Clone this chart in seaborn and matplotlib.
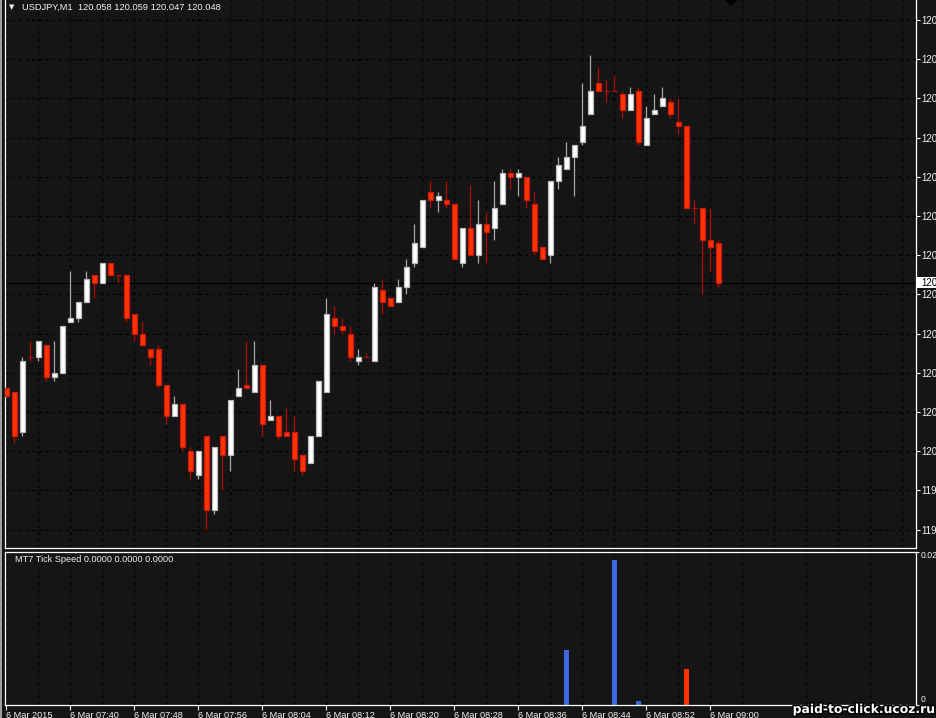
import numpy as np
import pandas as pd
import matplotlib
matplotlib.use("Agg")
import matplotlib.pyplot as plt
import seaborn as sns
from matplotlib import patheffects as pe
from matplotlib.patches import Polygon, Rectangle

# ---------------- data ----------------
symbol = "USDJPY,M1"
header_ohlc = ["120.058", "120.059", "120.047", "120.048"]

opens = [120.021, 120.020, 120.010, 120.029, 120.029, 120.032, 120.024, 120.025, 120.038, 120.039,
         120.043, 120.050, 120.048, 120.053, 120.050, 120.050, 120.040, 120.035, 120.031, 120.031,
         120.022, 120.014, 120.017, 120.005, 119.999, 120.009, 119.990, 120.009, 120.004, 120.019,
         120.022, 120.020, 120.027, 120.013, 120.014, 120.010, 120.010, 120.004, 120.002, 120.009,
         120.020, 120.039, 120.037, 120.035, 120.028, 120.029, 120.028, 120.046, 120.044, 120.043,
         120.047, 120.053, 120.057, 120.071, 120.069, 120.069, 120.068, 120.053, 120.062, 120.055,
         120.063, 120.062, 120.068, 120.076, 120.075, 120.075, 120.068, 120.057, 120.055, 120.074,
         120.077, 120.080, 120.084, 120.091, 120.099, 120.097, 120.097, 120.096, 120.092, 120.097,
         120.083, 120.091, 120.093, 120.094, 120.089, 120.088, 120.067, 120.067, 120.059, 120.058]
highs = [120.021, 120.020, 120.029, 120.033, 120.033, 120.032, 120.033, 120.037, 120.051, 120.043,
         120.051, 120.050, 120.053, 120.053, 120.050, 120.050, 120.040, 120.038, 120.031, 120.032,
         120.022, 120.019, 120.017, 120.006, 120.005, 120.009, 120.006, 120.009, 120.018, 120.026,
         120.033, 120.033, 120.027, 120.018, 120.014, 120.016, 120.014, 120.004, 120.009, 120.023,
         120.044, 120.042, 120.039, 120.037, 120.031, 120.030, 120.048, 120.049, 120.044, 120.049,
         120.054, 120.063, 120.069, 120.074, 120.071, 120.074, 120.068, 120.062, 120.073, 120.069,
         120.066, 120.074, 120.077, 120.077, 120.077, 120.075, 120.071, 120.057, 120.074, 120.080,
         120.084, 120.083, 120.099, 120.106, 120.103, 120.100, 120.101, 120.097, 120.098, 120.098,
         120.093, 120.096, 120.098, 120.095, 120.095, 120.088, 120.069, 120.067, 120.067, 120.059]
lows = [120.019, 120.007, 120.009, 120.028, 120.028, 120.023, 120.023, 120.025, 120.038, 120.038,
        120.043, 120.044, 120.048, 120.050, 120.048, 120.038, 120.033, 120.032, 120.027, 120.021,
        120.012, 120.014, 120.005, 119.998, 119.998, 119.985, 119.989, 119.995, 120.000, 120.019,
        120.021, 120.020, 120.009, 120.013, 120.008, 120.009, 120.000, 119.999, 120.002, 120.009,
        120.020, 120.035, 120.035, 120.028, 120.027, 120.029, 120.028, 120.040, 120.042, 120.043,
        120.045, 120.052, 120.057, 120.067, 120.066, 120.067, 120.054, 120.052, 120.055, 120.053,
        120.053, 120.059, 120.068, 120.072, 120.070, 120.067, 120.055, 120.054, 120.053, 120.072,
        120.077, 120.070, 120.083, 120.091, 120.097, 120.094, 120.097, 120.090, 120.092, 120.083,
        120.083, 120.091, 120.093, 120.090, 120.086, 120.067, 120.063, 120.045, 120.051, 120.047]
closes = [120.019, 120.009, 120.028, 120.029, 120.033, 120.024, 120.025, 120.037, 120.039, 120.043,
          120.049, 120.048, 120.053, 120.050, 120.050, 120.039, 120.035, 120.032, 120.029, 120.022,
          120.014, 120.017, 120.006, 120.000, 120.005, 119.990, 120.006, 120.004, 120.018, 120.021,
          120.021, 120.027, 120.012, 120.014, 120.009, 120.009, 120.003, 120.000, 120.009, 120.023,
          120.040, 120.037, 120.036, 120.029, 120.029, 120.029, 120.047, 120.043, 120.042, 120.047,
          120.052, 120.058, 120.069, 120.069, 120.070, 120.068, 120.054, 120.062, 120.055, 120.063,
          120.061, 120.067, 120.076, 120.075, 120.076, 120.069, 120.056, 120.054, 120.074, 120.078,
          120.080, 120.083, 120.088, 120.097, 120.097, 120.097, 120.097, 120.092, 120.096, 120.084,
          120.090, 120.092, 120.095, 120.091, 120.088, 120.067, 120.067, 120.059, 120.057, 120.048]

time_label_bars = [0, 8, 16, 24, 32, 40, 48, 56, 64, 72, 80, 88]
time_labels = ["6 Mar 2015", "6 Mar 07:40", "6 Mar 07:48", "6 Mar 07:56", "6 Mar 08:04",
               "6 Mar 08:12", "6 Mar 08:20", "6 Mar 08:28", "6 Mar 08:36", "6 Mar 08:44",
               "6 Mar 08:52", "6 Mar 09:00"]

price_ticks = [120.115, 120.105, 120.095, 120.085, 120.075, 120.065, 120.055,
               120.045, 120.035, 120.025, 120.015, 120.005, 119.995, 119.985]
# the price scale is cut at the window edge: only the leading digits are visible
price_tick_labels = ["120", "120", "120", "120", "120", "120", "120",
                     "120", "120", "120", "120", "120", "119", "119"]
bid_price = 120.048
bid_label = "120"

speed_up_bars = [70, 76, 79]
speed_up_values = [0.0071, 0.0189, 0.0004]
speed_down_bars = [85]
speed_down_values = [0.0046]
speed_axis_max = 0.0200
speed_axis_labels = ["0.02", "0"]
indicator_label = "MT7 Tick Speed 0.0000 0.0000 0.0000"
watermark = "paid-to-click.ucoz.ru"

# ---------------- style ----------------
W, H = 936, 718
BG = "#151515"
FG = "#f2f2f2"
BULL_FILL, BULL_EDGE, BULL_WICK = "#ffffff", "#b8b8b8", "#a8a8a8"
BEAR_FILL, BEAR_EDGE, BEAR_WICK = "#ff3300", "#c81a10", "#b00a0a"
UP_COL, DOWN_COL = "#3f66e0", "#ff3300"
FONT = ["Liberation Sans", "DejaVu Sans"]

sns.set_theme(style="dark")
plt.rcParams["font.family"] = FONT
plt.rcParams["axes.facecolor"] = BG

fig = plt.figure(figsize=(W / 100, H / 100), dpi=100)
fig.patch.set_facecolor(BG)

ax = fig.add_axes([5 / W, (H - 548) / H, 911 / W, 548 / H])
ax2 = fig.add_axes([5 / W, 13.5 / H, 911 / W, 153 / H])

df = pd.DataFrame({"o": opens, "h": highs, "l": lows, "c": closes})
df["i"] = np.arange(len(df))
bull = df["c"] > df["o"]
bear = df["c"] < df["o"]
doji = df["c"] == df["o"]

xlim = (-0.1625, 113.71)

# wicks
ax.vlines(df.loc[bull, "i"], df.loc[bull, "l"], df.loc[bull, "h"], color=BULL_WICK, lw=0.9, zorder=2)
ax.vlines(df.loc[~bull, "i"], df.loc[~bull, "l"], df.loc[~bull, "h"], color=BEAR_WICK, lw=0.9, zorder=2)
# bodies
bw = 0.56
ax.bar(df.loc[bull, "i"], df.loc[bull, "c"] - df.loc[bull, "o"], bottom=df.loc[bull, "o"],
       width=bw, color=BULL_FILL, edgecolor=BULL_EDGE, linewidth=0.9, zorder=3)
ax.bar(df.loc[bear, "i"], df.loc[bear, "o"] - df.loc[bear, "c"], bottom=df.loc[bear, "c"],
       width=bw, color=BEAR_FILL, edgecolor=BEAR_EDGE, linewidth=0.9, zorder=3)
ax.hlines(df.loc[doji, "c"], df.loc[doji, "i"] - bw / 2, df.loc[doji, "i"] + bw / 2,
          color=BEAR_WICK, lw=1.0, zorder=3)

ax.axhline(bid_price, color="black", lw=0.9, zorder=1.5)

ax.set_xlim(*xlim)
ax.set_ylim(119.98031, 120.1201)
ax.set_yticks(price_ticks)
ax.set_yticklabels(price_tick_labels)
ax.yaxis.tick_right()
ax.set_xticks(np.arange(0, 116, 4))
ax.tick_params(axis="x", length=0, labelbottom=False)
ax.tick_params(axis="y", colors=FG, labelcolor=FG, length=2.8, width=0.8, pad=1.2, labelsize=7,
               right=True, left=False)
ax.grid(True, color="black", linestyle=(0, (3, 3)), linewidth=0.8)
ax.set_axisbelow(True)
for s in ["left", "right", "bottom"]:
    ax.spines[s].set_color("white")
    ax.spines[s].set_linewidth(0.9)
ax.spines["top"].set_visible(False)

# bid label: white box reaching the window edge
ax.add_patch(Rectangle((1.0008, bid_price - 0.00135), 0.025, 0.0027,
                       transform=ax.get_yaxis_transform(), facecolor="white",
                       edgecolor="none", clip_on=False, zorder=9))
ax.text(1.0055, bid_price, bid_label, transform=ax.get_yaxis_transform(), fontsize=7,
        color="black", va="center", ha="left", zorder=10, clip_on=False)

# ---------------- indicator ----------------
n = len(df)
up_full = np.zeros(n)
up_full[speed_up_bars] = speed_up_values
down_full = np.zeros(n)
down_full[speed_down_bars] = speed_down_values
ind = pd.DataFrame({"bar": np.arange(n), "up": up_full, "down": down_full})
sns.barplot(data=ind, x="bar", y="up", native_scale=True, width=0.625, color=UP_COL,
            saturation=1, linewidth=0, errorbar=None, ax=ax2)
sns.barplot(data=ind, x="bar", y="down", native_scale=True, width=0.625, color=DOWN_COL,
            saturation=1, linewidth=0, errorbar=None, ax=ax2)
ax2.set_xlabel("")
ax2.set_ylabel("")
ax2.set_facecolor(BG)
ax2.set_xlim(*xlim)
ax2.set_ylim(0, speed_axis_max)
ax2.set_xticks(time_label_bars)
ax2.set_xticklabels(time_labels, ha="left")
ax2.set_xticks(np.arange(4, 116, 8), minor=True)
ax2.tick_params(axis="x", which="major", colors=FG, labelcolor=FG, length=3.5, width=0.8,
                pad=1, labelsize=6.6, bottom=True)
ax2.tick_params(axis="x", which="minor", length=0)
ax2.grid(True, axis="x", which="both", color="black", linestyle=(0, (3, 3)), linewidth=0.8)
ax2.grid(False, axis="y")
ax2.yaxis.tick_right()
ax2.set_yticks([speed_axis_max, 0.0])
ax2.set_yticklabels(speed_axis_labels)
ax2.tick_params(axis="y", colors=FG, labelcolor=FG, length=2.5, width=0.8, pad=0.8, labelsize=6.2,
                right=True, left=False)
yl = ax2.get_yticklabels()
yl[0].set_va("top")
yl[1].set_va("bottom")
ax2.set_axisbelow(True)
for s in ax2.spines.values():
    s.set_color("white")
    s.set_linewidth(0.9)
    s.set_visible(True)
ax2.text(10 / 911, 1 - 8 / 153, indicator_label, transform=ax2.transAxes, fontsize=6.6,
         color=FG, va="center", ha="left")

# ---------------- decorations ----------------
fig.text(22 / W, 1 - 7.5 / H, symbol + "  " + " ".join(header_ohlc), fontsize=6.7, color=FG,
         va="center", ha="left")
fig.text(9 / W, 1 - 7.5 / H, "\u25BC", fontsize=5, color=FG, va="center", ha="left",
         family="DejaVu Sans")
fig.patches.append(Polygon([[726 / W, 1.0], [736 / W, 1.0], [731 / W, 1 - 5 / H]], closed=True,
                           transform=fig.transFigure, facecolor="black", edgecolor="black"))
fig.patches.append(Rectangle((0, 0), 2 / W, 1, transform=fig.transFigure, facecolor="#a0a0a0",
                             edgecolor="none"))
fig.text(934 / W, 1 - 709.5 / H, watermark, fontsize=8.9, fontweight="bold", color="white",
         family="DejaVu Sans", ha="right", va="center",
         path_effects=[pe.withStroke(linewidth=2.2, foreground="black")])

fig.savefig("out.png", dpi=100, facecolor=fig.get_facecolor())
